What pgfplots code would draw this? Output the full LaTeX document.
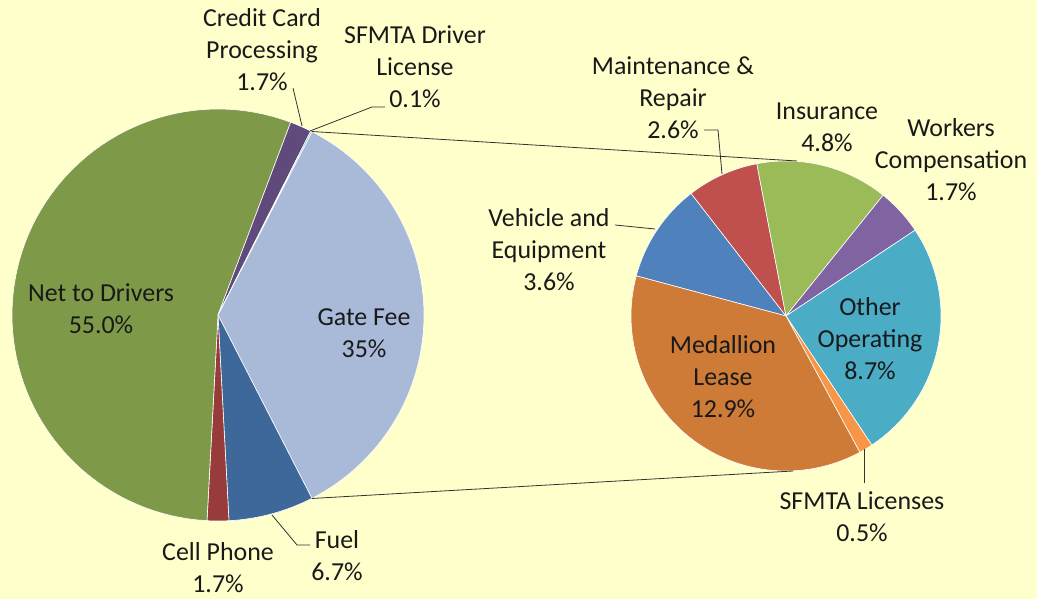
\documentclass[border=0pt]{standalone}
\usepackage{pgfplots}
\pgfplotsset{compat=1.18}
\usepackage{fontspec}
\setmainfont{Carlito}
\definecolor{bg}{RGB}{255,255,204}
\definecolor{cNet}{RGB}{126,154,72}
\definecolor{cCredit}{RGB}{96,74,123}
\definecolor{cSfDrv}{RGB}{75,172,198}
\definecolor{cGate}{RGB}{169,185,216}
\definecolor{cFuel}{RGB}{62,104,153}
\definecolor{cCell}{RGB}{152,60,59}
\definecolor{cVeh}{RGB}{79,129,189}
\definecolor{cMaint}{RGB}{192,80,77}
\definecolor{cIns}{RGB}{155,187,89}
\definecolor{cWork}{RGB}{128,100,162}
\definecolor{cOther}{RGB}{75,172,198}
\definecolor{cSfLic}{RGB}{247,150,70}
\definecolor{cMed}{RGB}{207,123,56}
\definecolor{txt}{RGB}{25,25,25}
\definecolor{lead}{RGB}{50,50,50}

% pie helpers: centre \cx,\cy, radius \rad, total \total, running angle \curang
\newcommand\pieslice[3]{% end angle, start angle, colour
  \edef\tmp{\noexpand\addplot[draw=white, line width=0.6pt, fill=#3, domain=#1:#2, samples=80, variable=\noexpand\t]
    ({\cx+\rad*cos(\noexpand\t)},{\cy+\rad*sin(\noexpand\t)}) -- (axis cs:\cx,\cy) -- cycle;}\tmp}
\newcommand\slice[2]{% value, colour
  \pgfmathsetmacro\newang{\curang-#1/\total*360}%
  \pieslice{\newang}{\curang}{#2}%
  \xdef\curang{\newang}}

\tikzset{lbl/.style={font=\fontsize{26}{32}\selectfont, text=txt, align=center, inner sep=0pt, anchor=center}}

\begin{document}
\begin{tikzpicture}
\begin{axis}[
  x=1bp, y=1bp, xmin=0, xmax=1037, ymin=0, ymax=599,
  hide axis, clip=false, scale only axis,
]
\fill[bg] (axis cs:0,0) rectangle (axis cs:1037,599);

% ---- left pie ----
\def\cx{218}\def\cy{284}\def\rad{206}\def\total{100.2}
\xdef\curang{62.874}
\slice{35}{cGate}
\slice{6.7}{cFuel}
\slice{1.7}{cCell}
\slice{55.0}{cNet}
\slice{1.7}{cCredit}
\slice{0.1}{cSfDrv}

% ---- right pie ----
\def\cx{786}\def\cy{283}\def\rad{155}\def\total{34.8}
\xdef\curang{165}
\slice{3.6}{cVeh}
\slice{2.6}{cMaint}
\slice{4.8}{cIns}
\slice{1.7}{cWork}
\slice{8.7}{cOther}
\slice{0.5}{cSfLic}
\slice{12.9}{cMed}

% connector lines
\addplot[lead, line width=0.8pt] coordinates {(311.6,467.5) (797,438)};
\addplot[lead, line width=0.8pt] coordinates {(311.6,100.5) (793,128)};

% leader lines
\addplot[lead, line width=0.8pt] coordinates {(293,511) (302,473)};
\addplot[lead, line width=0.8pt] coordinates {(310,468) (372,492) (385,492)};
\addplot[lead, line width=0.8pt] coordinates {(272,84) (297,54) (310,54)};
\addplot[lead, line width=0.8pt] coordinates {(722,425) (718,469) (704,469)};
\addplot[lead, line width=0.8pt] coordinates {(615,374) (655,370)};
\addplot[lead, line width=0.8pt] coordinates {(864,150) (864,116)};

% labels
\node[lbl] at (axis cs:262,549) {Credit Card\\Processing\\1.7\%};
\node[lbl] at (axis cs:415,532) {SFMTA Driver\\License\\0.1\%};
\node[lbl] at (axis cs:101,290) {Net to Drivers\\55.0\%};
\node[lbl] at (axis cs:364,266) {Gate Fee\\35\%};
\node[lbl] at (axis cs:218,31) {Cell Phone\\1.7\%};
\node[lbl] at (axis cs:337,43) {Fuel\\6.7\%};
\node[lbl] at (axis cs:673,501) {Maintenance \&\\Repair\\2.6\%};
\node[lbl] at (axis cs:827,472) {Insurance\\4.8\%};
\node[lbl] at (axis cs:951,439) {Workers\\Compensation\\1.7\%};
\node[lbl] at (axis cs:549,349) {Vehicle and\\Equipment\\3.6\%};
\node[lbl] at (axis cs:723,222) {Medallion\\Lease\\12.9\%};
\node[lbl] at (axis cs:870,260) {Other\\Operating\\8.7\%};
\node[lbl] at (axis cs:862,82) {SFMTA Licenses\\0.5\%};
\end{axis}
\end{tikzpicture}
\end{document}
